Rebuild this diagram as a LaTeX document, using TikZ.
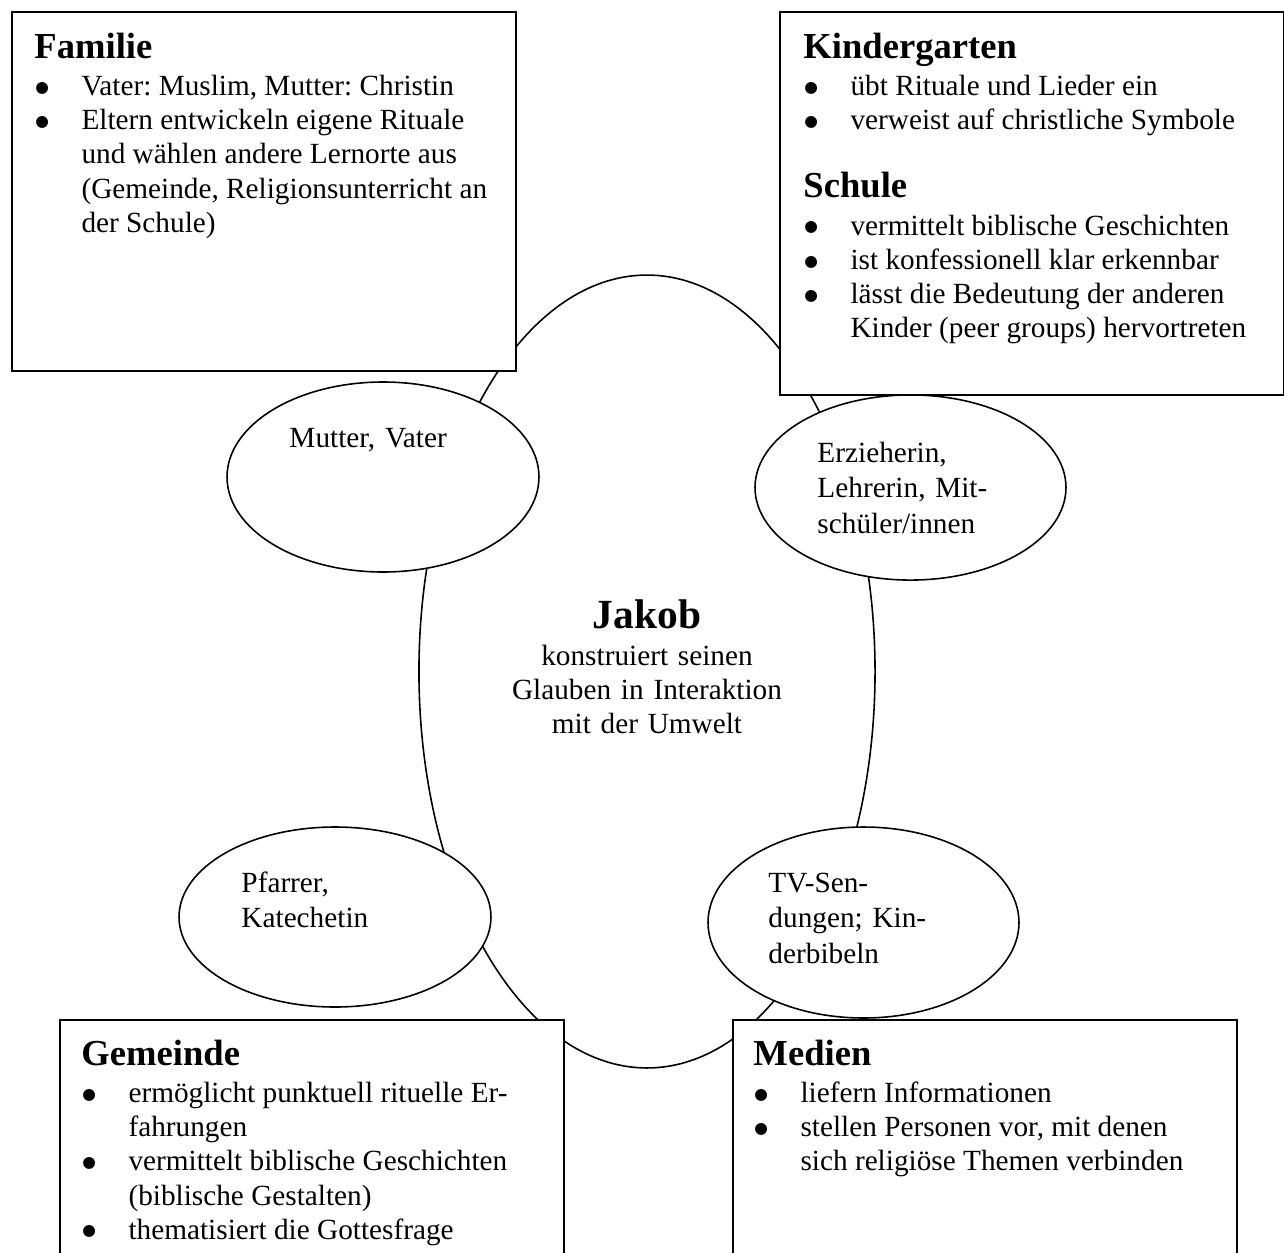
\documentclass[tikz,border=0pt]{standalone}
\usepackage{fontspec}
\setmainfont{Liberation Serif}
\newfontfamily\symbolschrift{DejaVu Sans}
\usepackage{tikz}
\usetikzlibrary{shapes.geometric}

% Ueberschrift, Aufzaehlungspunkt und Textblock in den Kaesten
\newcommand{\titel}[1]{{\fontsize{15}{14}\selectfont\bfseries #1\par}\vspace{1.4pt}}
\newcommand{\punkt}{\par\hangindent=19.3pt\hangafter=1\noindent\makebox[19.3pt][l]{\hspace{0.4pt}\raisebox{1.4pt}{\symbolschrift\fontsize{6.4}{8}\selectfont ●}}}
\newcommand{\kastentext}[1]{\parbox[t]{200pt}{\raggedright #1}}

\begin{document}
\begin{tikzpicture}[x=0.41pt, y=-0.41pt]

    % Stile der Kaesten, Ellipsen und Texte
    \tikzstyle{kasten} = [rectangle, draw=black, fill=white, line width=0.75pt, anchor=north west, inner sep=0pt, minimum width=206.6pt]
    \tikzstyle{kreis} = [ellipse, draw=black, fill=white, line width=0.65pt, inner sep=0pt]
    \tikzstyle{inhalt} = [anchor=base west, inner sep=0pt, font=\fontsize{12}{14}\selectfont\frenchspacing]
    \tikzstyle{etikett} = [anchor=base west, inner sep=0pt, text width=110pt, align=left, font=\fontsize{12}{14.6}\selectfont\frenchspacing]

    \useasboundingbox (0,0) rectangle (1284,1252);
    \clip (0,0) rectangle (1284,1252);

    % Jakob in der Mitte
    \node (jakob) [kreis, minimum width=187pt, minimum height=325.1pt] at (647,671.5) {};
    \node (jakobtext) [anchor=base, inner sep=0pt, text width=180pt, align=center, font=\fontsize{12}{14}\selectfont\frenchspacing] at (647,628)
        {{\fontsize{17}{14}\selectfont\bfseries Jakob\par}\vspace{1.2pt}konstruiert seinen\\ Glauben in Interaktion\\ mit der Umwelt};

    % Bezugspersonen
    \node (eltern) [kreis, minimum width=127.9pt, minimum height=77.9pt] at (383,477) {};
    \node (elterntext) [etikett] at (289,447) {Mutter, Vater};

    \node (lehrer) [kreis, minimum width=127.5pt, minimum height=75.9pt] at (910.5,487.5) {};
    \node (lehrertext) [etikett] at (817,462) {Erzieherin,\\ Lehrerin, Mit-\\ schüler/innen};

    \node (pfarrer) [kreis, minimum width=127.9pt, minimum height=73.8pt] at (335,917) {};
    \node (pfarrertext) [etikett] at (241,892) {Pfarrer,\\ Katechetin};

    \node (tv) [kreis, minimum width=127.5pt, minimum height=78.3pt] at (863.5,922.5) {};
    \node (tvtext) [etikett] at (768,892) {TV-Sen-\\ dungen; Kin-\\ derbibeln};

    % Lernorte
    \node (familie) [kasten, minimum height=147.2pt] at (11,11) {};
    \node (familietext) [inhalt] at (34,58) {\kastentext{\titel{Familie}
        \punkt Vater: Muslim, Mutter: Christin
        \punkt Eltern entwickeln eigene Rituale\newline und wählen andere Lernorte aus\newline (Gemeinde, Religionsunterricht an\newline der Schule)}};

    \node (kiga) [kasten, minimum height=157pt] at (779,11) {};
    \node (kigatext) [inhalt] at (803,58) {\kastentext{\titel{Kindergarten}
        \punkt übt Rituale und Lieder ein
        \punkt verweist auf christliche Symbole\par\vspace{13.9pt}
        \titel{Schule}
        \punkt vermittelt biblische Geschichten
        \punkt ist konfessionell klar erkennbar
        \punkt lässt die Bedeutung der anderen\newline Kinder (peer groups) hervortreten}};

    \node (gemeinde) [kasten, minimum height=123pt] at (59,1019) {};
    \node (gemeindetext) [inhalt] at (81,1065) {\kastentext{\titel{Gemeinde}
        \punkt ermöglicht punktuell rituelle Er-\newline fahrungen
        \punkt vermittelt biblische Geschichten\newline (biblische Gestalten)
        \punkt thematisiert die Gottesfrage}};

    \node (medien) [kasten, minimum height=123pt] at (732,1019) {};
    \node (medientext) [inhalt] at (753,1065) {\kastentext{\titel{Medien}
        \punkt liefern Informationen
        \punkt stellen Personen vor, mit denen\newline sich religiöse Themen verbinden}};

\end{tikzpicture}
\end{document}
